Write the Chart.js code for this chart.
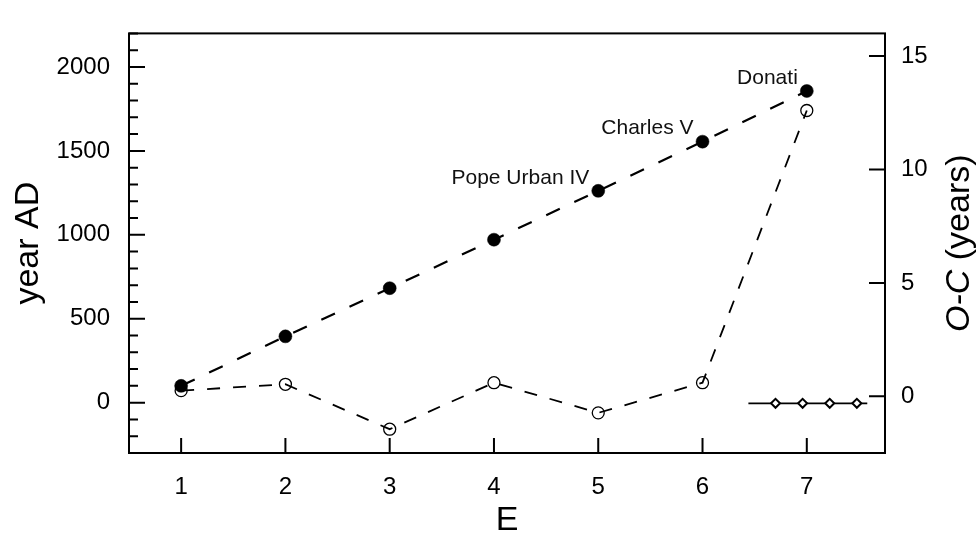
<!DOCTYPE html>
<html>
<head>
<meta charset="utf-8">
<script src="https://cdn.jsdelivr.net/npm/chart.js@4.4.1/dist/chart.umd.min.js"></script>
<style>
  html, body { margin: 0; padding: 0; background: #fff; }
  #chart { display: block; }
</style>
</head>
<body>
<canvas id="chart" width="978" height="534"></canvas>
<script>
// epoch number E
const epochs = [1, 2, 3, 4, 5, 6, 7];
// year of each apparition (left axis, filled circles)
const yearsAD = [100, 395, 682, 971, 1262, 1555, 1857];
// O-C residuals in years (right axis, open circles)
const residuals = [0.25, 0.53, -1.45, 0.6, -0.73, 0.6, 12.6];
// diamonds on the short solid line (right axis)
const diamondX = [6.7, 6.96, 7.22, 7.48];
const diamondY = [-0.31, -0.31, -0.31, -0.31];
const segmentX = [6.44, 7.58];
const segmentY = [-0.31, -0.31];
// named apparitions
const namedEpochs = [5, 6, 7];
const namedLabels = ['Pope Urban IV', 'Charles V', 'Donati'];

// tick labels
const xTicks = [1, 2, 3, 4, 5, 6, 7];
const yearTicks = [0, 500, 1000, 1500, 2000];
const ocTicks = [0, 5, 10, 15];

Chart.defaults.font.family = '"Liberation Sans", Arial, sans-serif';
Chart.defaults.color = '#000';

const toPoints = (xs, ys) => xs.map((x, i) => ({ x: x, y: ys[i] }));

// frame, inward tick marks, point labels and the right title
const frameAndTicks = {
    id: 'frameAndTicks',
    afterDraw(chart) {
        const { ctx, chartArea: a, scales } = chart;
        const xs = scales.x, yl = scales.yYear, yr = scales.yOC;
        ctx.save();
        ctx.strokeStyle = '#000';
        ctx.lineWidth = 2;
        ctx.beginPath();
        for (let v = Math.ceil(yl.min / 100) * 100; v <= yl.max; v += 100) {
            const y = yl.getPixelForValue(v);
            const len = yearTicks.includes(v) ? 16 : 9;
            ctx.moveTo(a.left, y);
            ctx.lineTo(a.left + len, y);
        }
        ocTicks.forEach(v => {
            const y = yr.getPixelForValue(v);
            ctx.moveTo(a.right, y);
            ctx.lineTo(a.right - 16, y);
        });
        xTicks.forEach(v => {
            const x = xs.getPixelForValue(v);
            ctx.moveTo(x, a.bottom);
            ctx.lineTo(x, a.bottom - 15);
        });
        ctx.stroke();
        ctx.strokeRect(a.left, a.top, a.right - a.left, a.bottom - a.top);

        // labels next to the named points
        ctx.fillStyle = '#111';
        ctx.font = '21px "Liberation Sans", Arial, sans-serif';
        ctx.textAlign = 'right';
        ctx.textBaseline = 'middle';
        namedEpochs.forEach((e, k) => {
            const i = epochs.indexOf(e);
            const px = xs.getPixelForValue(e);
            const py = yl.getPixelForValue(yearsAD[i]);
            ctx.fillText(namedLabels[k], px - 9, py - 13);
        });

        // right axis title, "O-C" in italics
        const italic = 'italic 34px "Liberation Sans", Arial, sans-serif';
        const normal = '34px "Liberation Sans", Arial, sans-serif';
        ctx.translate(969, (a.top + a.bottom) / 2);
        ctx.rotate(-Math.PI / 2);
        ctx.textAlign = 'left';
        ctx.textBaseline = 'alphabetic';
        ctx.fillStyle = '#000';
        ctx.font = italic;
        const w1 = ctx.measureText('O-C').width;
        ctx.font = normal;
        const w2 = ctx.measureText(' (years)').width;
        const start = -(w1 + w2) / 2;
        ctx.font = italic;
        ctx.fillText('O-C', start, 0);
        ctx.font = normal;
        ctx.fillText(' (years)', start + w1, 0);
        ctx.restore();
    }
};

new Chart(document.getElementById('chart'), {
    type: 'line',
    data: {
        datasets: [
            {
                data: toPoints(epochs, yearsAD),
                yAxisID: 'yYear',
                borderColor: '#000',
                borderWidth: 2.2,
                borderDash: [15, 16],
                pointRadius: 6.5,
                pointBackgroundColor: '#000',
                pointBorderColor: '#000',
                pointBorderWidth: 0.5
            },
            {
                data: toPoints(epochs, residuals),
                yAxisID: 'yOC',
                borderColor: '#000',
                borderWidth: 1.8,
                borderDash: [13, 13],
                pointRadius: 6,
                pointBackgroundColor: 'rgba(0,0,0,0)',
                pointBorderColor: '#000',
                pointBorderWidth: 1.3
            },
            {
                data: toPoints(diamondX, diamondY),
                yAxisID: 'yOC',
                showLine: false,
                pointStyle: 'rectRot',
                pointRadius: 4.5,
                pointBackgroundColor: '#fff',
                pointBorderColor: '#000',
                pointBorderWidth: 2
            },
            {
                data: toPoints(segmentX, segmentY),
                yAxisID: 'yOC',
                borderColor: '#000',
                borderWidth: 1.6,
                pointRadius: 0
            }
        ]
    },
    options: {
        responsive: false,
        animation: false,
        layout: { padding: { top: 13, left: 0, right: 0, bottom: 0 } },
        plugins: { legend: { display: false }, tooltip: { enabled: false } },
        scales: {
            x: {
                type: 'linear',
                position: 'bottom',
                min: 0.5,
                max: 7.75,
                grid: { display: false, drawTicks: false },
                border: { display: false },
                ticks: { padding: 20, font: { size: 24 }, callback: v => String(v) },
                afterBuildTicks: s => { s.ticks = xTicks.map(v => ({ value: v })); },
                afterFit: s => { s.height = 81; },
                title: { display: true, text: 'E', font: { size: 34, lineHeight: 0.8 }, padding: 0 }
            },
            yYear: {
                type: 'linear',
                position: 'left',
                min: -300,
                max: 2200,
                grid: { display: false, drawTicks: false },
                border: { display: false },
                ticks: { padding: 19, font: { size: 24 }, callback: v => String(v) },
                afterBuildTicks: s => { s.ticks = yearTicks.map(v => ({ value: v })); },
                afterFit: s => { s.width = 129; },
                title: { display: true, text: 'year AD', font: { size: 34 }, padding: { top: 8, bottom: 0 } }
            },
            yOC: {
                type: 'linear',
                position: 'right',
                min: -2.5,
                max: 16,
                grid: { display: false, drawTicks: false },
                border: { display: false },
                ticks: { padding: 16, font: { size: 24 }, callback: v => String(v) },
                afterBuildTicks: s => { s.ticks = ocTicks.map(v => ({ value: v })); },
                afterFit: s => { s.width = 93; }
            }
        }
    },
    plugins: [frameAndTicks]
});
</script>
</body>
</html>
